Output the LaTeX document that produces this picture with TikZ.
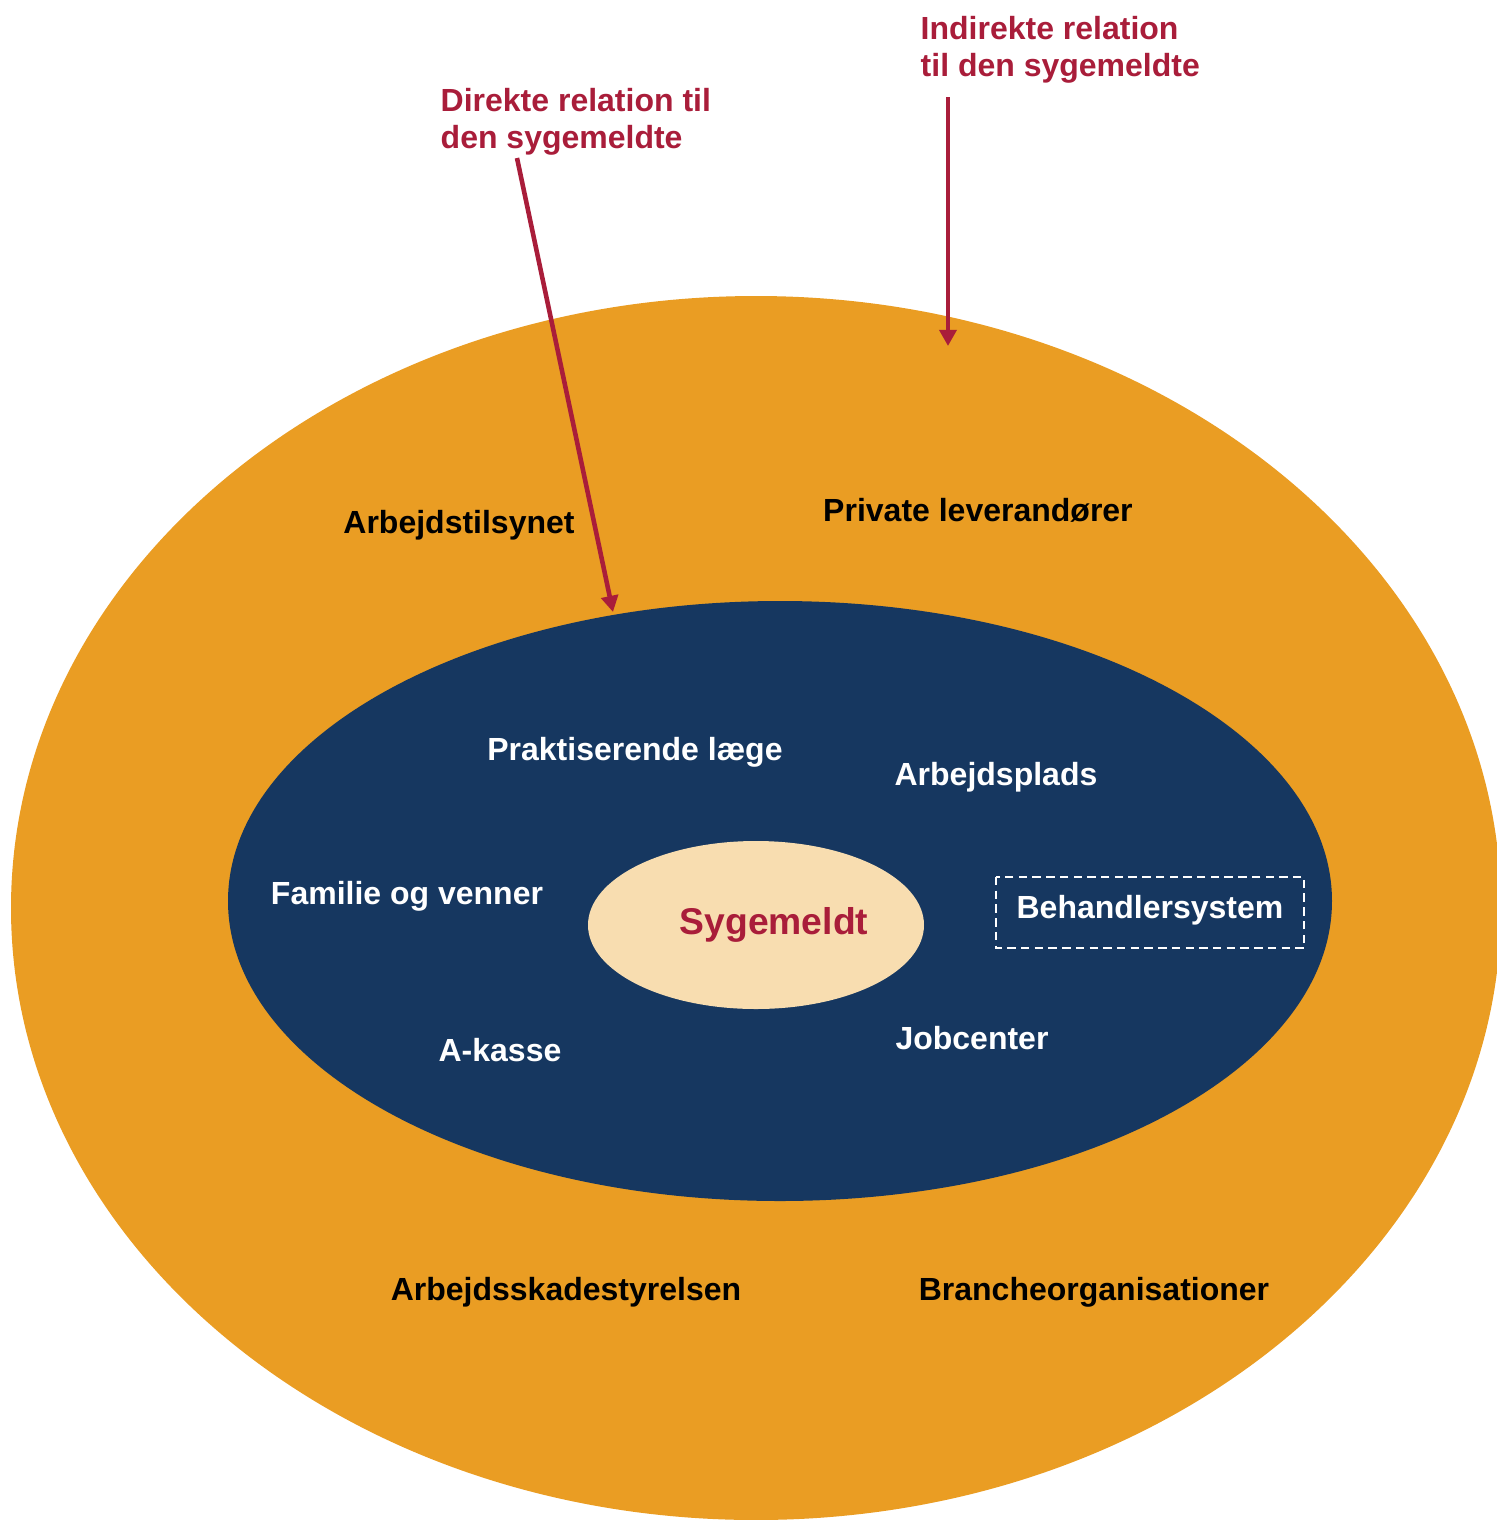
\documentclass[tikz,border=0pt]{standalone}
\usepackage{fontspec}
\setmainfont{Liberation Sans}
\usetikzlibrary{arrows.meta}
\definecolor{ringorange}{HTML}{EA9D23}
\definecolor{navy}{HTML}{163760}
\definecolor{cream}{HTML}{F8DDB0}
\definecolor{relred}{HTML}{A91D3A}
\tikzset{
  lbl/.style={font=\fontsize{9.1}{10.5}\selectfont\bfseries, anchor=base, inner sep=0pt},
  outerlbl/.style={lbl, text=black},
  innerlbl/.style={lbl, text=white},
  rellbl/.style={font=\fontsize{9.1}{10.5}\selectfont\bfseries, text=relred, align=left, anchor=north west, inner sep=0pt},
  relarrow/.style={draw=relred, line width=1.3pt, -{Triangle[length=4.6pt,width=4.8pt]}},
}
\begin{document}
\begin{tikzpicture}[x=0.01cm,y=-0.01cm]
\useasboundingbox (0,0) rectangle (1497,1520);
\clip (0,0) rectangle (1497,1520);
% rings
\fill[ringorange] (756,908) ellipse [x radius=745, y radius=612];
\fill[navy] (780,901) ellipse [x radius=552, y radius=300];
\fill[cream] (756,925) ellipse [x radius=168, y radius=84];
% outer labels
\node[outerlbl] (at) at (459,533) {Arbejdstilsynet};
\node[outerlbl] (pl) at (978,521) {Private leverandører};
\node[outerlbl] (as) at (566,1300) {Arbejdsskadestyrelsen};
\node[outerlbl] (bo) at (1094,1300) {Brancheorganisationer};
% inner labels
\node[innerlbl] (pr) at (635,760) {Praktiserende læge};
\node[innerlbl] (ap) at (996,785) {Arbejdsplads};
\node[innerlbl] (fv) at (407,904) {Familie og venner};
\node[innerlbl] (ak) at (500,1061) {A-kasse};
\node[innerlbl] (jc) at (972,1049) {Jobcenter};
\node[innerlbl] (bs) at (1150,918) {Behandlersystem};
\draw[white, line width=0.6pt, dash pattern=on 2.4pt off 1.5pt] (996,877) rectangle (1304,948);
% centre
\node[lbl, text=relred, font=\fontsize{10.6}{12}\selectfont\bfseries] (sg) at (774,934) {Sygemeldt};
% relation labels
\node[rellbl] (dir) at (440,88) {Direkte relation til\\den sygemeldte};
\node[rellbl] (ind) at (920,16) {Indirekte relation\\til den sygemeldte};
\coordinate (dirs) at (517,158);
\coordinate (dire) at (613,612);
\coordinate (inds) at (948,97);
\coordinate (inde) at (948,346);
\draw[relarrow] (dirs) -- (dire);
\draw[relarrow] (inds) -- (inde);
\end{tikzpicture}
\end{document}
